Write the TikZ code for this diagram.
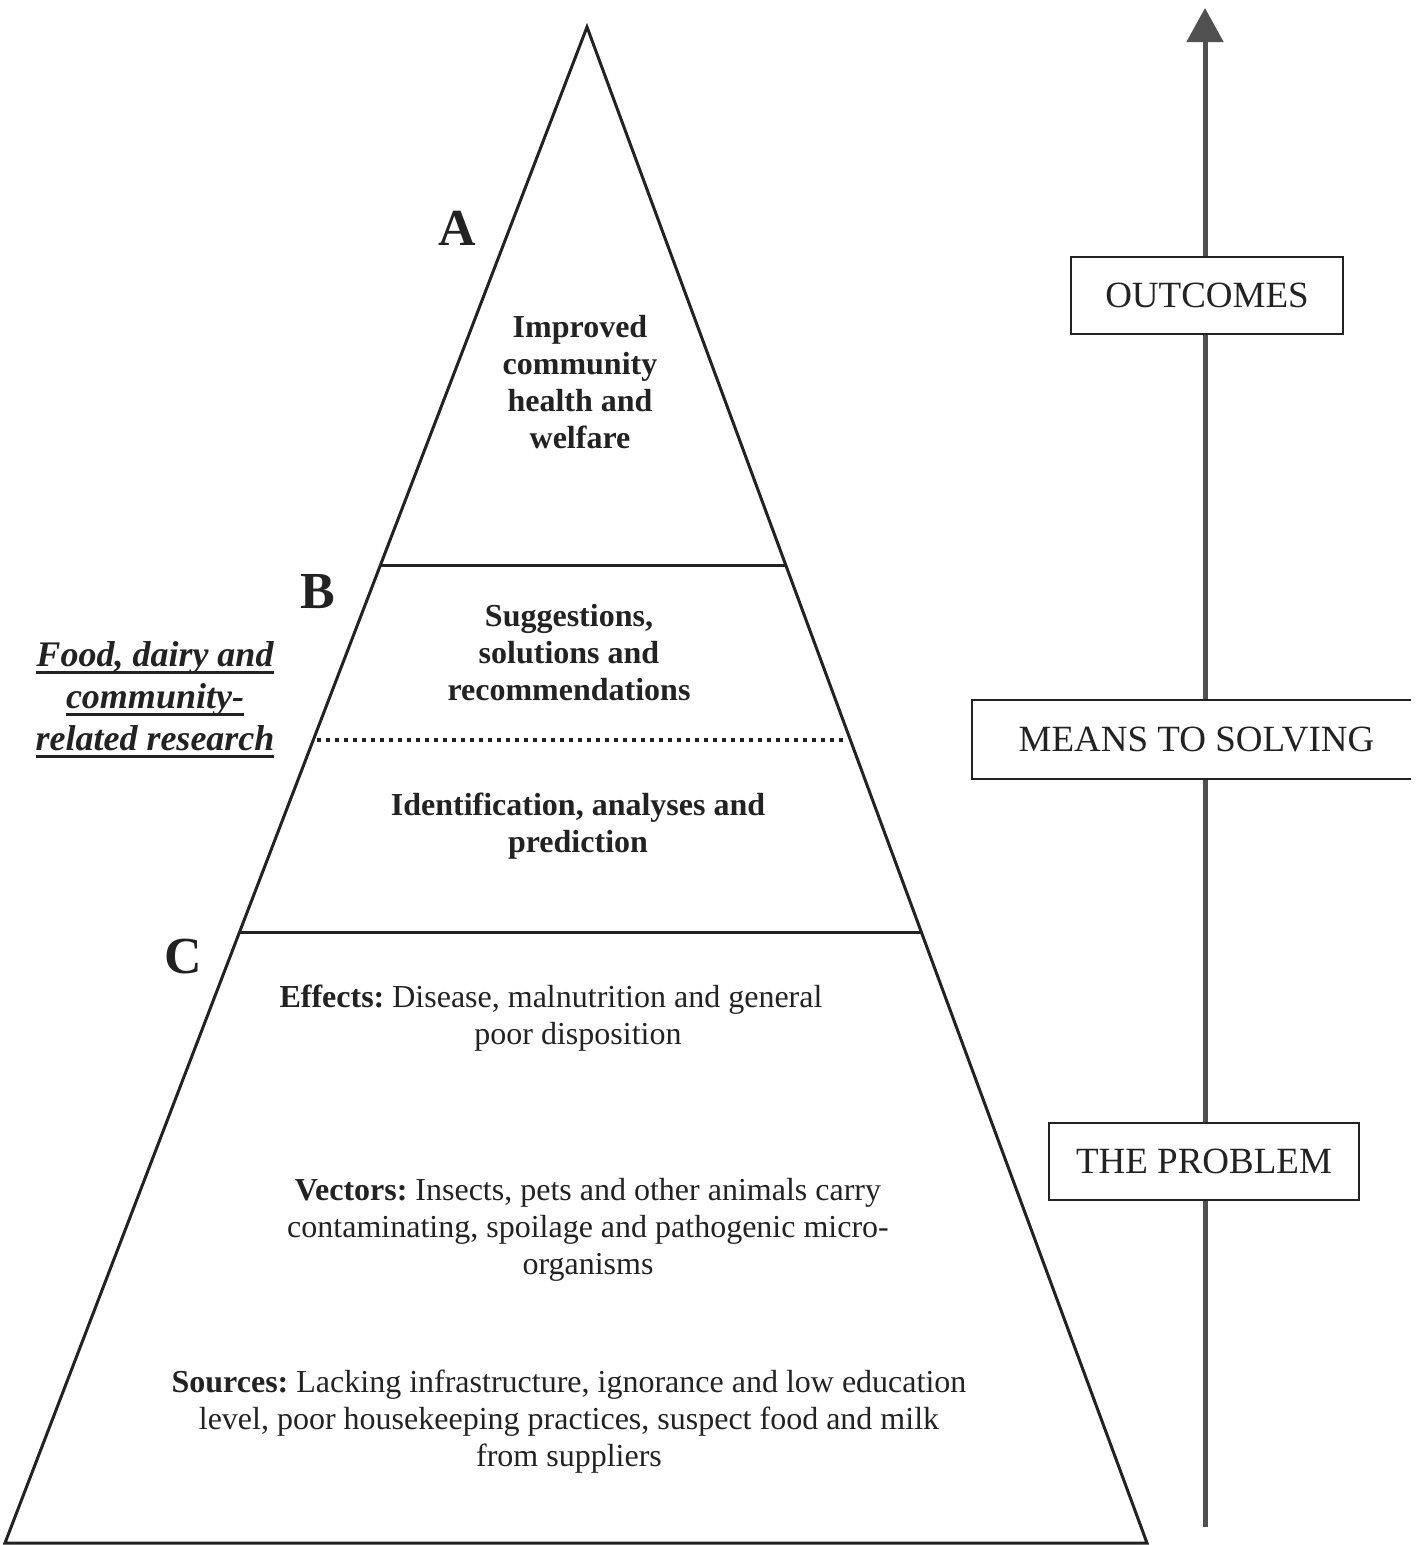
\documentclass[tikz,border=0pt]{standalone}
\usepackage{fontspec}
\setmainfont{Liberation Serif}
\usetikzlibrary{arrows.meta,calc}
\definecolor{ink}{HTML}{222222}
\definecolor{arr}{HTML}{505050}
\newcommand\myul[1]{\setbox0\hbox{#1}\rlap{\rule[-7pt]{\wd0}{2.6pt}}\box0}
\frenchspacing
\begin{document}
\begin{tikzpicture}[x=1pt,y=-1pt,
  edge/.style={draw=ink,line width=3pt,line join=miter},
  body/.style={text=ink,align=center,font=\fontsize{32}{37}\selectfont,inner sep=0pt},
  bbody/.style={body,font=\fontsize{32}{37}\selectfont\bfseries},
  letter/.style={text=ink,font=\fontsize{52}{52}\selectfont\bfseries,inner sep=0pt},
  boxlabel/.style={draw=ink,line width=2pt,fill=white,text=ink,font=\fontsize{37}{37}\selectfont,inner sep=0pt},
  side/.style={text=ink,align=center,font=\fontsize{36}{42}\selectfont\bfseries\itshape,inner sep=0pt}]
\useasboundingbox (0,0) rectangle (1417,1545);
% pyramid
\coordinate (apex) at (587,27);
\coordinate (bl) at (5,1543);
\coordinate (br) at (1147,1543);
\draw[edge] (bl) -- (apex) -- (br) -- cycle;
\coordinate (l1) at ($(apex)!0.3555!(bl)$);
\coordinate (r1) at ($(apex)!0.3555!(br)$);
\coordinate (l2) at ($(apex)!0.4703!(bl)$);
\coordinate (r2) at ($(apex)!0.4703!(br)$);
\coordinate (l3) at ($(apex)!0.5970!(bl)$);
\coordinate (r3) at ($(apex)!0.5970!(br)$);
\draw[edge] (l1) -- (r1);
\draw[edge] (l3) -- (r3);
\draw[ink,line width=3.5pt,dash pattern=on 4pt off 5pt] ($(l2)+(4,0)$) -- ($(r2)+(-4,0)$);
% letters
\node[letter] (A) at (457,228) {A};
\node[letter] (B) at (318,592) {B};
\node[letter] (C) at (183,957) {C};
% texts
\node[bbody] (t1) at (580,382) {Improved\\community\\health and\\welfare};
\node[bbody] (t2) at (569,653) {Suggestions,\\solutions and\\recommendations};
\node[bbody] (t3) at (578,826) {Identification, analyses and\\prediction};
\node[body] (t4) at (578,1018) {\textbf{Effects:} Disease, malnutrition and general\hspace*{54pt}\\poor disposition};
\node[body] (t5) at (588,1230) {\textbf{Vectors:} Insects, pets and other animals carry\\contaminating, spoilage and pathogenic micro-\\organisms};
\node[body] (t6) at (569,1422) {\textbf{Sources:} Lacking infrastructure, ignorance and low education\\level, poor housekeeping practices, suspect food and milk\\from suppliers};
\node[side] (res) at (155,700) {\myul{Food, dairy and}\\\myul{community-}\\\myul{related research}};
% arrow
\coordinate (abot) at (1205,1527);
\coordinate (atop) at (1205,8);
\draw[arr,line width=5pt,-{Triangle[length=34pt,width=36pt]}] (abot) -- (atop);
\node[boxlabel,minimum width=272pt,minimum height=77pt] (out) at (1207,295.5) {OUTCOMES};
\node[boxlabel,draw=none,minimum width=437pt,minimum height=77pt] (means) at (1191.5,739.5) {\hspace*{10pt}MEANS TO SOLVING};
\draw[ink,line width=2pt] (means.north east) -- (means.north west) -- (means.south west) -- (means.south east);
\node[boxlabel,minimum width=310pt,minimum height=77pt] (prob) at (1204,1161.5) {THE PROBLEM};
\end{tikzpicture}
\end{document}
